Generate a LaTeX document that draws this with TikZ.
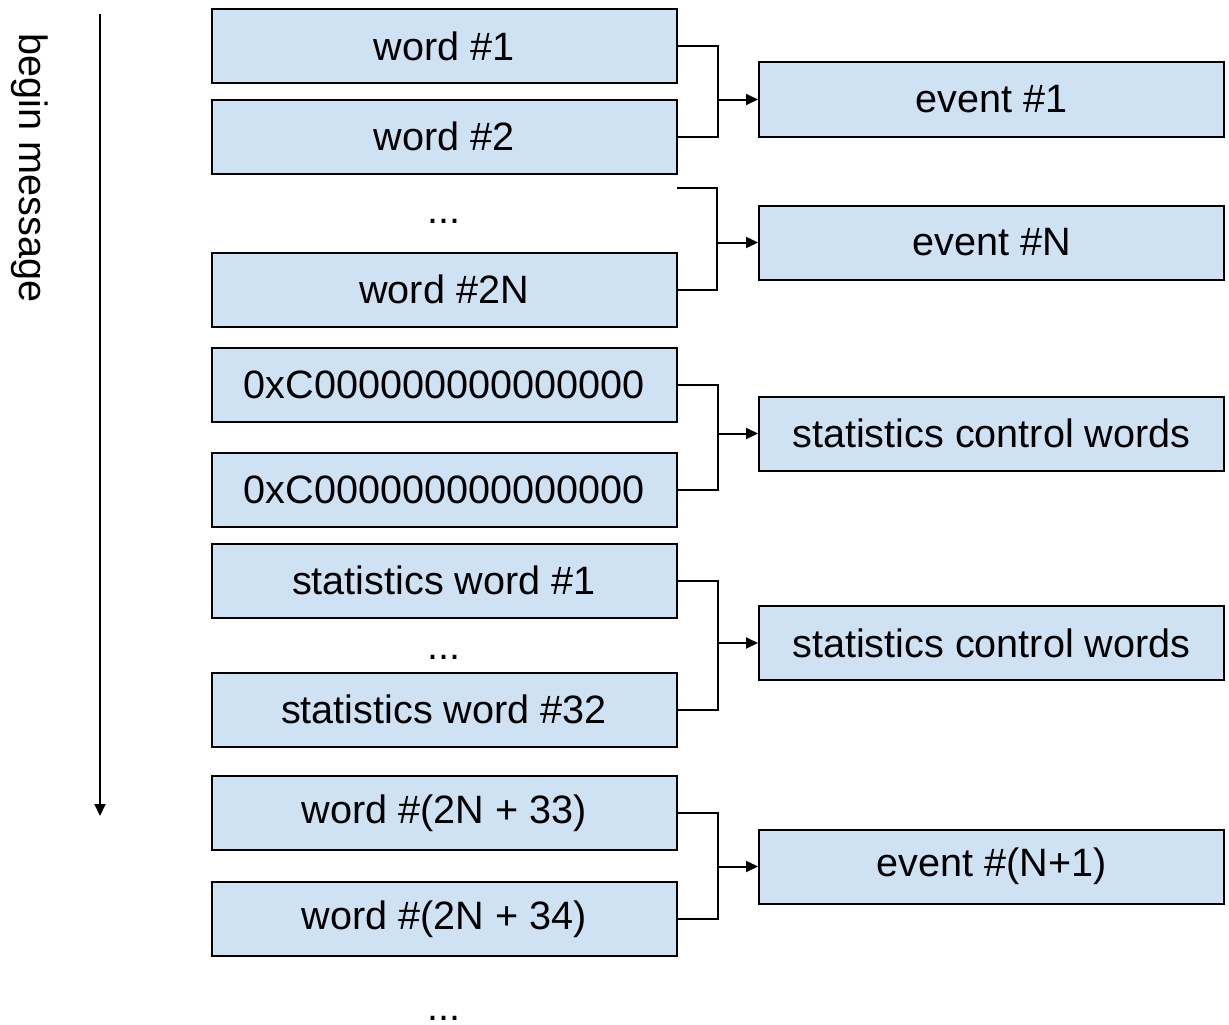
\documentclass[tikz,border=0pt]{standalone}
\usepackage{fontspec}
\setmainfont{Liberation Sans}
\usetikzlibrary{arrows.meta,calc}
\definecolor{boxfill}{HTML}{CFE2F3}
\begin{document}
\begin{tikzpicture}[x=1pt,y=-1pt,
  font=\fontsize{39.6}{47}\selectfont,
  wbox/.style={draw=black,fill=boxfill,line width=2pt,minimum width=465pt,minimum height=74pt,inner sep=0pt,text=black},
  conn/.style={line width=2pt,draw=black},
  arr/.style={conn,-{Triangle[length=12pt,width=11pt]}},
  dotsnode/.style={anchor=base,inner sep=0pt,text depth=0pt}]
\useasboundingbox (0,0) rectangle (1229,1025);
% left column
\node[wbox] (w1) at (444,46.5) {word \#1};
\node[wbox] (w2) at (444,136.5) {word \#2};
\node[dotsnode] (d1) at (444,223) {...};
\node[wbox] (w2n) at (444,289.5) {word \#2N};
\node[wbox] (c1) at (444,384.5) {0xC000000000000000};
\node[wbox] (c2) at (444,489.5) {0xC000000000000000};
\node[wbox] (s1) at (444,580.5) {statistics word \#1};
\node[dotsnode] (d2) at (444,659) {...};
\node[wbox] (s32) at (444,709.5) {statistics word \#32};
\node[wbox] (w33) at (444,813) {word \#(2N + 33)};
\node[wbox] (w34) at (444,919) {word \#(2N + 34)};
\node[dotsnode] (d3) at (444,1020) {...};
% right column
\node[wbox] (e1) at (991.5,99.5) {event \#1};
\node[wbox] (en) at (991.5,242.5) {event \#N};
\node[wbox] (sc1) at (991.5,433.5) {statistics control words};
\node[wbox] (sc2) at (991.5,643) {statistics control words};
\node[wbox] (en1) at (991.5,866.5) {event \#(N+1)};
% begin message arrow
\node[rotate=-90,inner sep=0pt] (lbl) at (30,168) {begin message};
\coordinate (atop) at (100,14);
\coordinate (abot) at (100,816);
\draw[arr] (atop) -- (abot);
% brackets
\coordinate (b1) at ($(w1.east)+(40,0)$);
\draw[conn] (w1.east) -- (b1) |- (w2.east);
\draw[arr] (b1 |- e1.west) -- (e1.west);
\coordinate (ftop) at (677,188);
\coordinate (b2) at (717,188);
\draw[conn] (ftop) -- (b2) |- (w2n.east);
\draw[arr] (b2 |- en.west) -- (en.west);
\coordinate (b3) at ($(c1.east)+(40,0)$);
\draw[conn] (c1.east) -- (b3) |- (c2.east);
\draw[arr] (b3 |- sc1.west) -- (sc1.west);
\coordinate (b4) at ($(s1.east)+(40,0)$);
\draw[conn] (s1.east) -- (b4) |- (s32.east);
\draw[arr] (b4 |- sc2.west) -- (sc2.west);
\coordinate (b5) at ($(w33.east)+(40,0)$);
\draw[conn] (w33.east) -- (b5) |- (w34.east);
\draw[arr] (b5 |- en1.west) -- (en1.west);
\end{tikzpicture}
\end{document}
